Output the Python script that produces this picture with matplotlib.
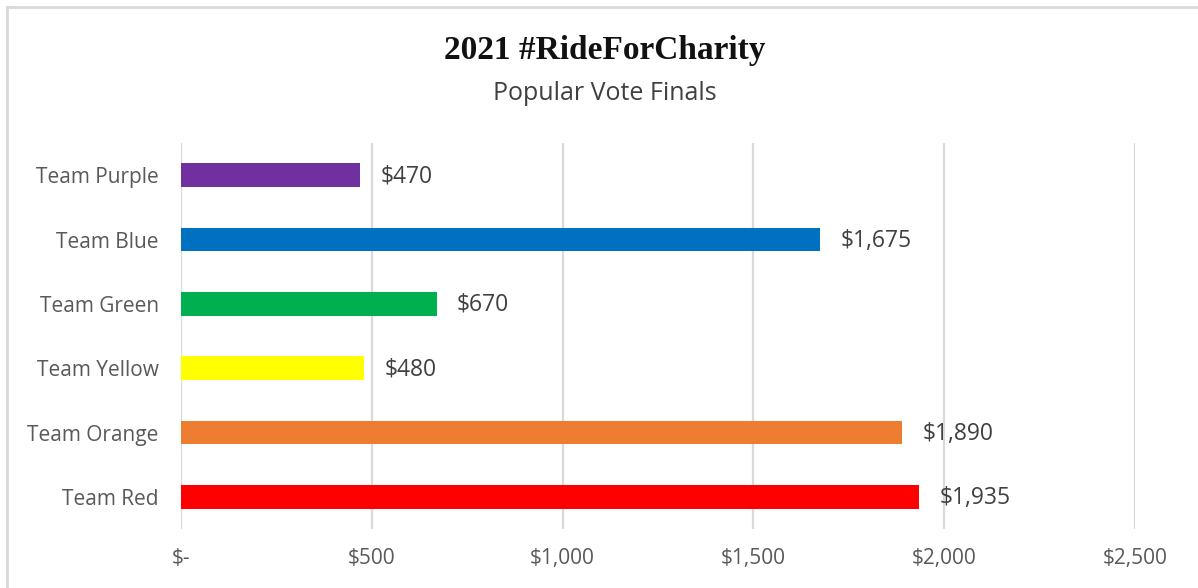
import matplotlib
matplotlib.use("Agg")
import matplotlib.pyplot as plt
from matplotlib.lines import Line2D
from matplotlib.ticker import FuncFormatter
from matplotlib import font_manager as fm

teams = ["Team Red", "Team Orange", "Team Yellow", "Team Green", "Team Blue", "Team Purple"]
values = [1935, 1890, 480, 670, 1675, 470]
colors = ["#FF0000", "#ED7D31", "#FFFF00", "#00B050", "#0070C0", "#7030A0"]
xticks = [0, 500, 1000, 1500, 2000, 2500]
title = "2021 #RideForCharity"
subtitle = "Popular Vote Finals"

W, H = 1198, 588
fig = plt.figure(figsize=(W / 100, H / 100), dpi=100)
ax = fig.add_axes([181 / W, 1 - 529 / H, (1135 - 181) / W, (529 - 143) / H])

pos = list(range(len(teams)))
ax.barh(pos, values, height=0.37, color=colors, zorder=3)
ax.set_ylim(-0.5, len(teams) - 0.5)
ax.set_xlim(0, 2500)
ax.set_xticks(xticks)

def fmt(v, _):
    return "$-" if v == 0 else "${:,.0f}".format(v)

body = ["Open Sans", "DejaVu Sans"]
ax.xaxis.set_major_formatter(FuncFormatter(fmt))
ax.set_yticks(pos)
ax.set_yticklabels(teams)
for s in ax.spines.values():
    s.set_visible(False)
ax.tick_params(axis="both", length=0, colors="#595959", labelsize=15)
ax.tick_params(axis="x", pad=14)
ax.tick_params(axis="y", pad=16)
for lab in ax.get_xticklabels() + ax.get_yticklabels():
    lab.set_fontfamily(body)
ax.grid(axis="x", color="#d9d9d9", linewidth=1.6, zorder=0)
ax.set_axisbelow(True)

for p, v in zip(pos, values):
    ax.annotate(fmt(v, None), (v, p), xytext=(20, -1), textcoords="offset pixels",
                va="center", ha="left", fontsize=16.5, color="#404040", family=body)

# title font: condensed serif if available
tfam, tsize = "Liberation Serif", 24
try:
    fm.findfont(fm.FontProperties(family="DejaVu Serif Condensed", weight="bold"), fallback_to_default=False)
    tfam, tsize = "DejaVu Serif Condensed", 24
except Exception:
    pass

fig.text(605 / W, 1 - 51 / H, title, ha="center", va="center", fontsize=tsize,
         fontweight="bold", family=tfam, color="#111111")
fig.text(605 / W, 1 - 93 / H, subtitle, ha="center", va="center", fontsize=18,
         family=body, color="#404040")

fig.add_artist(Line2D([7 / W, 7 / W], [0, 1 - 7 / H], transform=fig.transFigure, color="#d9d9d9", lw=2))
fig.add_artist(Line2D([7 / W, 1], [1 - 7 / H, 1 - 7 / H], transform=fig.transFigure, color="#d9d9d9", lw=2))

fig.savefig("out.png", dpi=100)
